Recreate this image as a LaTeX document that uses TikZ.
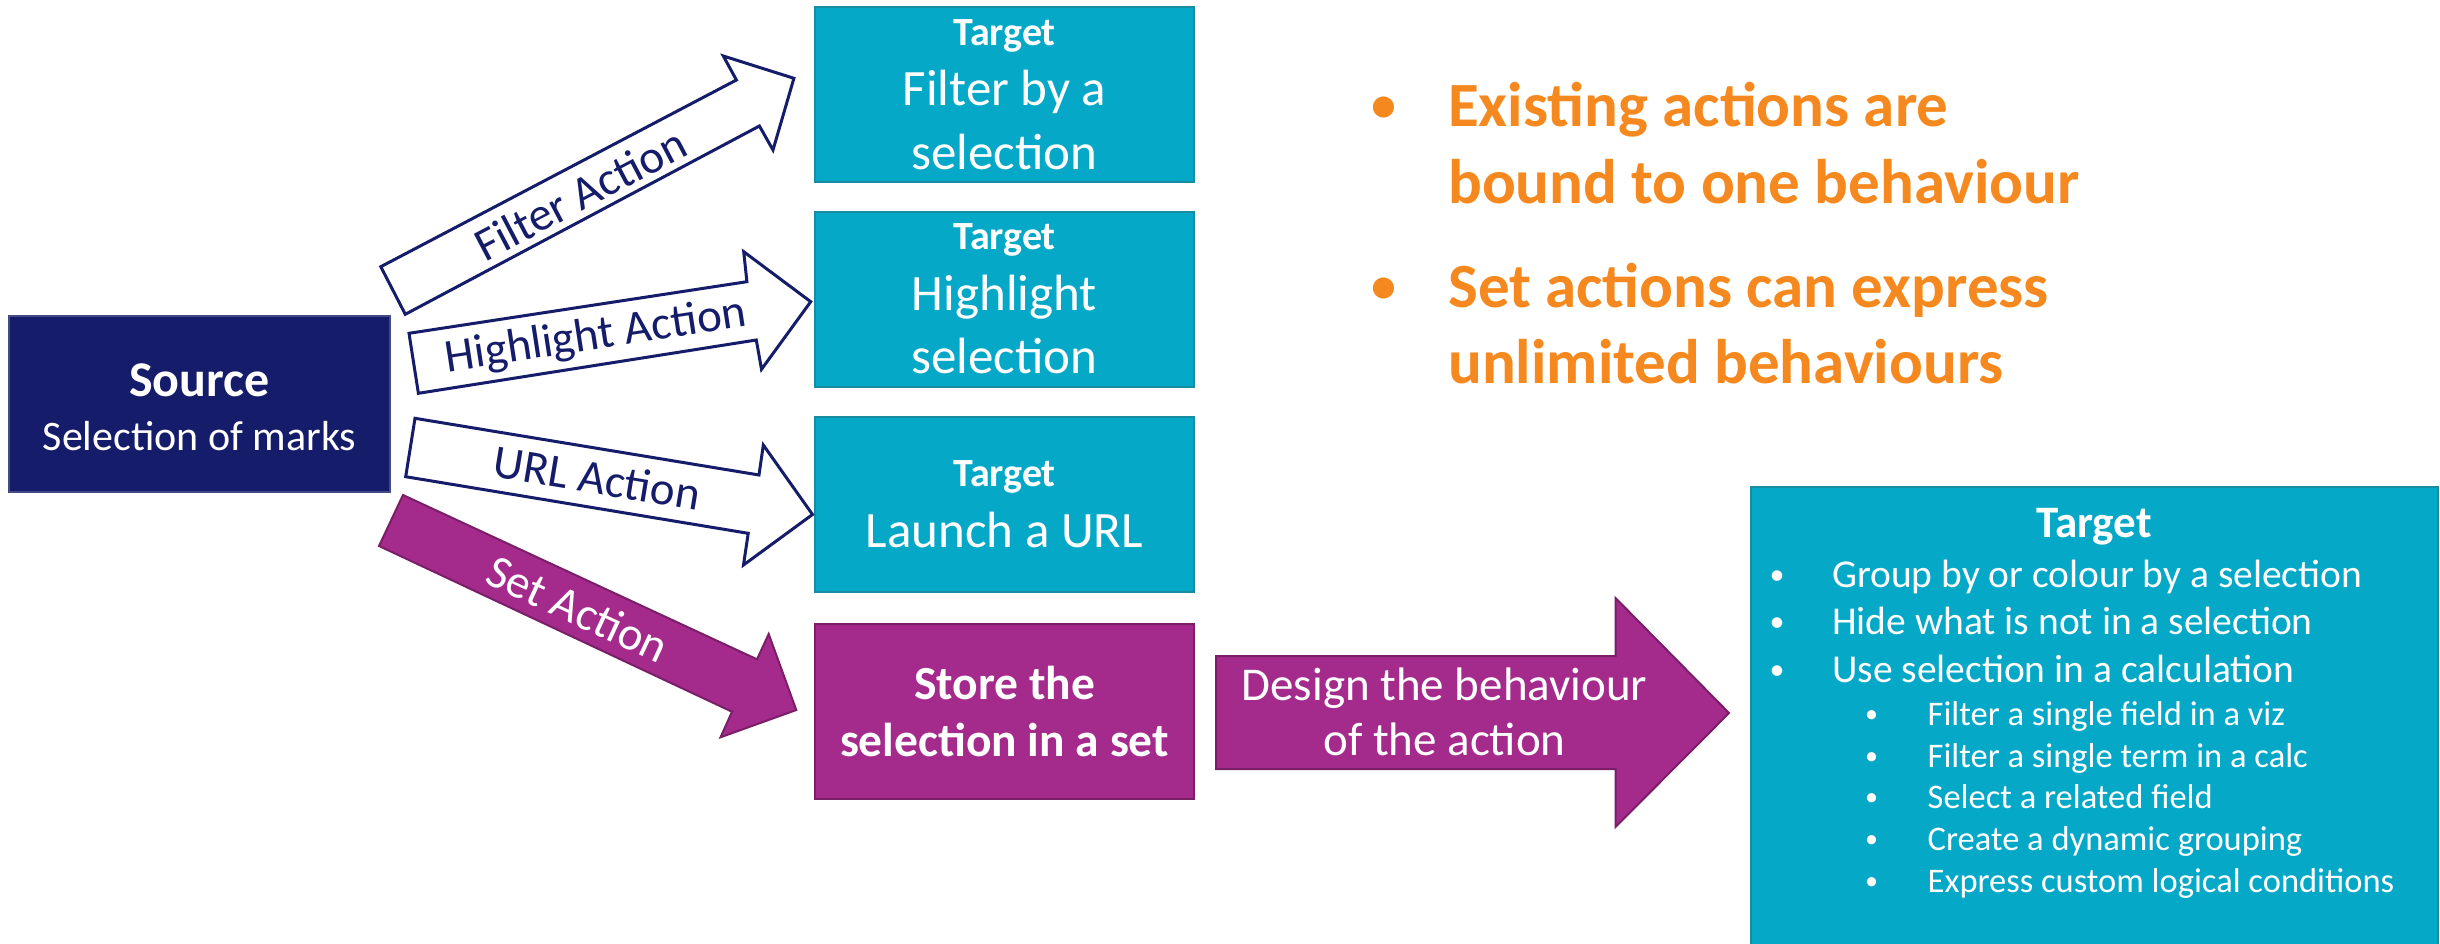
\documentclass[tikz,border=0pt]{standalone}
\usepackage{fontspec}
\setmainfont{Carlito}
\definecolor{navy}{HTML}{151C69}
\definecolor{teal}{HTML}{05A8C6}
\definecolor{tealedge}{HTML}{1A8CA2}
\definecolor{purp}{HTML}{A42B8C}
\definecolor{purpedge}{HTML}{7B1E68}
\definecolor{orng}{HTML}{F5891F}
\newcommand{\fs}[1]{\fontsize{#1}{#1}\selectfont}
\begin{document}
\begin{tikzpicture}[x=1pt,y=-1pt,
  tbox/.style={rectangle, fill=teal, draw=tealedge, line width=2.5pt, inner sep=0pt, minimum width=379, minimum height=175},
  pbox/.style={rectangle, fill=purp, draw=purpedge, line width=2.5pt, inner sep=0pt},
  srcbox/.style={rectangle, fill=navy, draw=navy!80!white, line width=2pt, inner sep=0pt, minimum width=381, minimum height=176},
  txt/.style={inner sep=0pt, anchor=base, text=white},
  txtl/.style={inner sep=0pt, anchor=base west, text=white},
  whitearrow/.style={fill=white, draw=navy, line width=3pt, line join=miter},
  purparrow/.style={fill=purp, draw=purpedge, line width=2pt, line join=miter},
  actlbl/.style={inner sep=0pt, text=navy, font=\fs{47}},
  orangetxt/.style={inner sep=0pt, anchor=base west, text=orng, font=\bfseries\fs{63}},
  orangebul/.style={inner sep=0pt, anchor=base, text=orng, font=\bfseries\fs{50}},
]
\useasboundingbox (0,0) rectangle (2440,944);

% Source
\node[srcbox] (src) at (199.5,404) {};
\node[txt, font=\bfseries\fs{50}] (srcA) at (199.5,396) {Source};
\node[txt, font=\fs{42}] (srcB) at (199.5,450) {Selection of marks};

% Target boxes
\node[tbox] (t1) at (1004.5,94.5) {};
\node[txt, font=\bfseries\fs{40}] (t1a) at (1004.5,45.5) {Target};
\node[txt, font=\fs{51}] (t1b) at (1004.5,106) {Filter by a};
\node[txt, font=\fs{51}] (t1c) at (1004.5,170) {selection};

\node[tbox] (t2) at (1004.5,299.5) {};
\node[txt, font=\bfseries\fs{40}] (t2a) at (1004.5,249) {Target};
\node[txt, font=\fs{51}] (t2b) at (1004.5,310) {Highlight};
\node[txt, font=\fs{51}] (t2c) at (1004.5,373) {selection};

\node[tbox] (t3) at (1004.5,504.5) {};
\node[txt, font=\bfseries\fs{40}] (t3a) at (1004.5,486) {Target};
\node[txt, font=\fs{51}] (t3b) at (1004.5,547) {Launch a URL};

% Store box
\node[pbox, minimum width=379, minimum height=175] (st) at (1004.5,711.5) {};
\node[txt, font=\bfseries\fs{47.5}] (sta) at (1004.5,699) {Store the};
\node[txt, font=\bfseries\fs{47.5}] (stb) at (1004.5,756) {selection in a set};

% Action arrows
\draw[whitearrow] (380.8,266.7) -- (736.4,80) -- (723.3,56) -- (793.9,78.3) -- (773,150) -- (759.4,126) -- (405.3,314.3) -- cycle;
\node[actlbl, rotate=27.7] (fa) at (580,194) {Filter Action};

\draw[whitearrow] (409,333.3) -- (746.9,281.7) -- (743.7,251.7) -- (810.7,301.7) -- (761.5,369.3) -- (756.3,340) -- (418.4,393.3) -- cycle;
\node[actlbl, rotate=8.7] (ha) at (596,337) {Highlight Action};

\draw[whitearrow] (415,418.3) -- (759,475) -- (763.3,445) -- (812.5,514.5) -- (743.5,565) -- (748.2,533.3) -- (405.7,476.7) -- cycle;
\node[actlbl, rotate=-9.4] (ua) at (597,478) {URL Action};

\draw[purparrow] (403,495) -- (757,659.3) -- (768.7,634) -- (796.3,710) -- (720.5,737.3) -- (732,711.7) -- (379,546) -- cycle;
\node[actlbl, text=white, rotate=-24.9] (sa) at (578,609) {Set Action};

% Design arrow
\draw[purparrow] (1216,656) -- (1615.5,656) -- (1615.5,598) -- (1729,713) -- (1615.5,827) -- (1615.5,769) -- (1216,769) -- cycle;
\node[txt, font=\fs{47}] (da) at (1444.5,700) {Design the behaviour};
\node[txt, font=\fs{47}] (db) at (1444.5,755) {of the action};

% Big target box
\node[tbox, minimum width=687, minimum height=473] (bt) at (2094.5,723.5) {};
\node[txt, font=\bfseries\fs{45}] (bth) at (2094,537) {Target};
\foreach \yy/\tt [count=\i] in {587/{Group by or colour by a selection},634/{Hide what is not in a selection},682/{Use selection in a calculation}}{
  \node[txt, font=\fs{30}] (bb\i) at (1777,\yy-3) {•};
  \node[txtl, font=\fs{39.5}] (bl\i) at (1832,\yy) {\tt};
}
\foreach \yy/\tt [count=\i] in {725/{Filter a single field in a viz},767/{Filter a single term in a calc},808/{Select a related field},850/{Create a dynamic grouping},892/{Express custom logical conditions}}{
  \node[txt, font=\fs{26}] (sb\i) at (1871.5,\yy-3) {•};
  \node[txtl, font=\fs{34.5}] (sl\i) at (1927.5,\yy) {\tt};
}

% Orange bullets
\node[orangebul] (ob1) at (1384,122) {•};
\node[orangetxt] (o1) at (1448,127) {Existing actions are};
\node[orangetxt] (o2) at (1448,204) {bound to one behaviour};
\node[orangebul] (ob2) at (1384,302) {•};
\node[orangetxt] (o3) at (1448,307) {Set actions can express};
\node[orangetxt] (o4) at (1448,383) {unlimited behaviours};
\end{tikzpicture}
\end{document}
